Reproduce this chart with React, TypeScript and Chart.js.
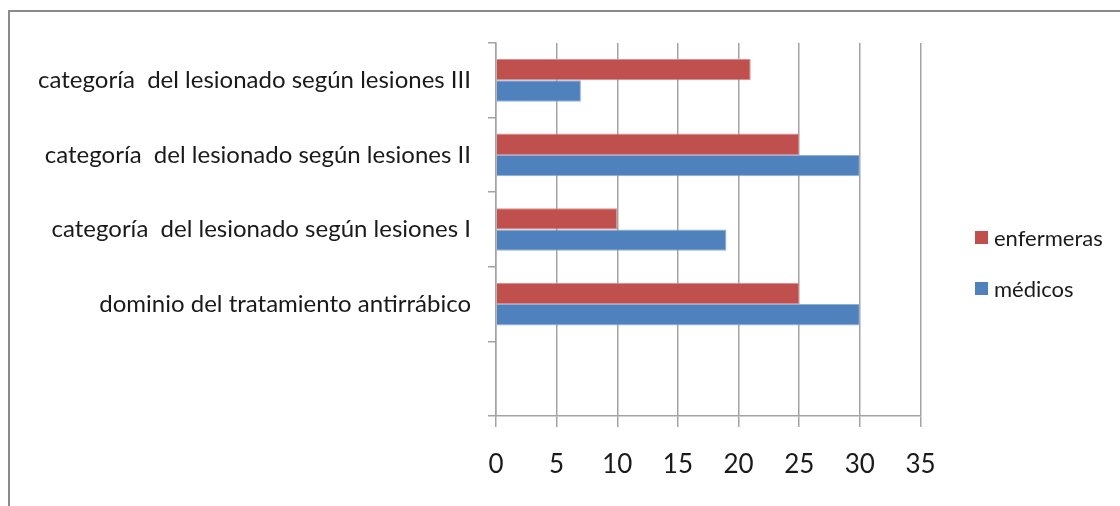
import React, { useEffect, useRef } from 'react';
import { Chart, registerables } from 'chart.js';

Chart.register(...registerables);

const categories = [
  'categoría  del lesionado según lesiones III',
  'categoría  del lesionado según lesiones II',
  'categoría  del lesionado según lesiones I',
  'dominio del tratamiento antirrábico',
  '',
];
const seriesNames = ['enfermeras', 'médicos'];
const enfermeras = [21, 25, 10, 25, null];
const medicos = [7, 30, 19, 30, null];
const xTickValues = [0, 5, 10, 15, 20, 25, 30, 35];

const RED = '#C0504D';
const BLUE = '#4F81BD';
const GRID = '#a3a3a3';
const FONT = 'Lato';
const TEXT = '#1a1a1a';

export default function App() {
  const ref = useRef<HTMLCanvasElement | null>(null);

  useEffect(() => {
    let chart: Chart | null = null;
    let cancelled = false;
    const make = () => {
      if (cancelled || !ref.current) return;
      chart = new Chart(ref.current, {
        type: 'bar',
        data: {
          labels: categories,
          datasets: [
            {
              label: seriesNames[0],
              data: enfermeras,
              backgroundColor: RED,
              borderColor: '#d98c8a',
              borderWidth: 1,
              categoryPercentage: 0.573,
              barPercentage: 1,
            },
            {
              label: seriesNames[1],
              data: medicos,
              backgroundColor: BLUE,
              borderColor: '#8fb0d8',
              borderWidth: 1,
              categoryPercentage: 0.573,
              barPercentage: 1,
            },
          ],
        },
        options: {
          indexAxis: 'y',
          responsive: false,
          animation: false,
          layout: { padding: { top: 43, right: 199.5, left: 0, bottom: 0 } },
          plugins: { legend: { display: false }, tooltip: { enabled: false } },
          scales: {
            x: {
              min: xTickValues[0],
              max: xTickValues[xTickValues.length - 1],
              afterBuildTicks: (s: any) => {
                s.ticks = xTickValues.map((v) => ({ value: v }));
              },
              ticks: {
                font: { family: FONT, size: 26 },
                color: TEXT,
                padding: 22,
                maxRotation: 0,
              },
              grid: { color: GRID, lineWidth: 1.5, tickLength: 11 },
              border: { color: GRID, width: 1.5 },
              afterFit: (s: any) => {
                s.height = 90;
              },
            },
            y: {
              grid: {
                display: true,
                drawOnChartArea: false,
                offset: true,
                tickLength: 8,
                color: GRID,
                lineWidth: 1.5,
              },
              border: { color: GRID, width: 1.5 },
              ticks: {
                font: { family: FONT, size: 24 },
                color: TEXT,
                padding: 17,
                autoSkip: false,
              },
              afterFit: (s: any) => {
                s.width = 496;
              },
            },
          },
        },
      });
    };
    const fonts = (document as any).fonts;
    if (fonts && fonts.load) {
      Promise.all([fonts.load(`24px ${FONT}`), fonts.load(`26px ${FONT}`)])
        .catch(() => null)
        .then(make);
    } else {
      make();
    }
    return () => {
      cancelled = true;
      if (chart) chart.destroy();
    };
  }, []);

  const legendItems = [
    { name: seriesNames[0], color: RED, center: 238 },
    { name: seriesNames[1], color: BLUE, center: 289 },
  ];

  return (
    <div style={{ position: 'fixed', left: 0, top: 0, width: 1120, height: 506, overflow: 'hidden', background: '#fff' }}>
      <div
        style={{
          position: 'absolute',
          left: 8,
          top: 10,
          width: 1300,
          height: 700,
          border: '2px solid #8a8a8a',
        }}
      />
      <canvas ref={ref} width={1120} height={506} style={{ position: 'absolute', left: 0, top: 0, width: 1120, height: 506 }} />
      {legendItems.map((it) => (
        <div key={it.name}>
          <div
            style={{
              position: 'absolute',
              left: 975,
              top: it.center - 7,
              width: 13,
              height: 13,
              background: it.color,
            }}
          />
          <div
            style={{
              position: 'absolute',
              left: 994,
              top: it.center - 14,
              height: 28,
              lineHeight: '28px',
              fontFamily: FONT,
              fontSize: 22,
              color: TEXT,
              whiteSpace: 'nowrap',
            }}
          >
            {it.name}
          </div>
        </div>
      ))}
    </div>
  );
}
